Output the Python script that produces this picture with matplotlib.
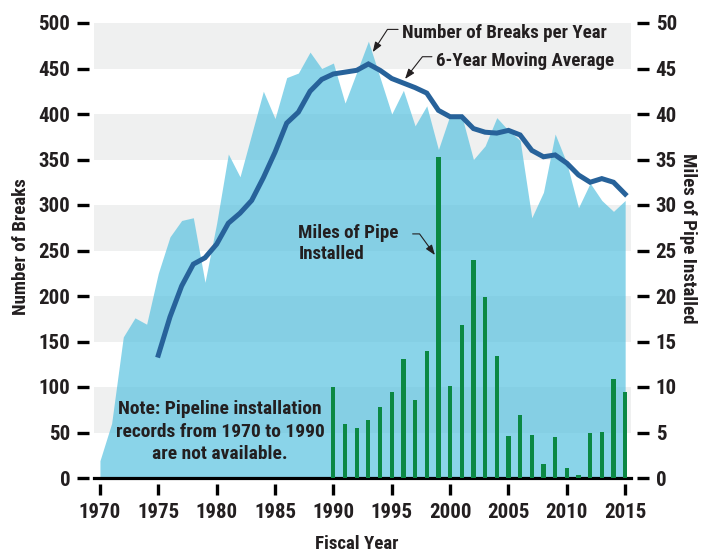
import matplotlib
matplotlib.use("Agg")
import matplotlib.pyplot as plt
from matplotlib import font_manager

# the original uses a condensed bold face; take the narrowest one installed
installed = {f.name for f in font_manager.fontManager.ttflist}
family, scale = "DejaVu Sans", 0.72
for fam, sc in [("Roboto Condensed", 1.0), ("Liberation Sans Narrow", 1.0),
                ("DejaVu Sans Condensed", 0.85), ("Roboto", 0.8)]:
    if fam in installed:
        family, scale = fam, sc
        break
plt.rcParams["font.family"] = [family, "DejaVu Sans"]
plt.rcParams["font.weight"] = "bold"

fs_tick = 15 * scale
fs_text = 13.6 * scale
fs_label = 13.6 * scale
fs_note = 14 * scale

# Number of breaks per year, FY1970-2015
break_years = list(range(1970, 2016))
breaks = [19, 60, 155, 176, 169, 225, 265, 283, 286, 215,
          280, 356, 331, 378, 425, 395, 440, 445, 468, 450,
          456, 412, 446, 480, 440, 400, 426, 387, 409, 361,
          399, 398, 350, 365, 396, 382, 371, 286, 314, 378,
          346, 297, 324, 305, 293, 305]

# 6-year moving average, FY1975-2015
avg_years = list(range(1975, 2016))
moving_avg = [135, 177, 211, 235, 242, 257, 280, 291, 305, 330,
              358, 390, 402, 425, 438, 444, 446, 448, 455, 448,
              439, 434, 429, 423, 404, 397, 397, 384, 380, 379,
              382, 377, 360, 353, 355, 346, 333, 325, 329, 325, 312]

# Miles of pipe installed, FY1990-2015
pipe_years = list(range(1990, 2016))
miles = [10.0, 5.9, 5.5, 6.4, 7.8, 9.5, 13.1, 8.6, 14.0, 35.3,
         10.1, 16.8, 24.0, 19.9, 13.4, 4.6, 6.9, 4.7, 1.5, 4.5,
         1.1, 0.3, 5.0, 5.1, 10.9, 9.4]

x_ticks = list(range(1970, 2020, 5))
left_ticks = list(range(0, 550, 50))
right_ticks = list(range(0, 55, 5))

text_color = "#231f20"
area_color = "#58c2e0"
line_color = "#27629a"
bar_color = "#0b8843"
band_color = "#eff0f0"

fig = plt.figure(figsize=(7.04, 5.53), dpi=100)
ax1 = fig.add_axes([94 / 704, 75 / 553, 537 / 704, 455 / 553])
ax2 = ax1.twinx()

# alternating background bands
for lo in range(50, 500, 100):
    ax1.axhspan(lo, lo + 50, color=band_color, lw=0, zorder=0)

ax1.fill_between(break_years, breaks, 0, color=area_color, alpha=0.7,
                 lw=0, zorder=1)
ax1.plot(avg_years, moving_avg, color=line_color, lw=3.6,
         solid_joinstyle="miter", zorder=3)

ax2.bar(pipe_years, miles, width=0.36, color=bar_color, zorder=2)

ax1.set_xlim(1969.49, 2015.5)
ax1.set_ylim(0, 500)
ax2.set_ylim(0, 50)

ax1.set_xticks(x_ticks)
ax1.set_yticks(left_ticks)
ax2.set_yticks(right_ticks)

for ax in (ax1, ax2):
    for s in ax.spines.values():
        s.set_visible(False)
ax1.spines["left"].set_position(("outward", 3.6))
ax1.spines["bottom"].set_position(("outward", 4.3))
ax2.spines["right"].set_position(("outward", 4.3))

ax1.tick_params(axis="y", length=8.4, width=2.4, color="black", pad=5,
                labelsize=fs_tick, labelcolor=text_color)
ax1.tick_params(axis="x", length=8, width=2.4, color="black", pad=5.5,
                labelsize=fs_tick, labelcolor=text_color)
ax2.tick_params(axis="y", length=8.4, width=2.4, color="black", pad=5,
                labelsize=fs_tick, labelcolor=text_color)

# black baseline
ax1.axhline(0, color="black", lw=2.3, clip_on=False, zorder=5)

fig.text(21 / 704, 1 - 247 / 553, "Number of Breaks", rotation=90,
         ha="center", va="center", fontsize=fs_label, color=text_color)
fig.text(688 / 704, 1 - 238 / 553, "Miles of Pipe Installed", rotation=270,
         ha="center", va="center", fontsize=fs_label, color=text_color)
fig.text(357 / 704, 1 - 544 / 553, "Fiscal Year", ha="center", va="center",
         fontsize=fs_label, color=text_color)

ax1.text(1980.3, 51, "Note: Pipeline installation\nrecords from 1970 to 1990\nare not available.",
         ha="center", va="center", multialignment="center", fontsize=fs_note,
         color=text_color, linespacing=1.3, zorder=6)

arrow = dict(arrowstyle="-|>,head_length=0.6,head_width=0.22", color=text_color,
             lw=0.8, mutation_scale=10, shrinkA=1, shrinkB=0)

ax1.annotate("Number of Breaks per Year", xy=(1993.37, 468), xytext=(1995.9, 489),
             ha="left", va="center", fontsize=fs_text, color=text_color, zorder=6,
             arrowprops=dict(arrow, relpos=(0, 0.7),
                             connectionstyle="angle,angleA=0,angleB=57,rad=0"))
ax1.annotate("6-Year Moving Average", xy=(1996.14, 438.5), xytext=(1998.8, 458),
             ha="left", va="center", fontsize=fs_text, color=text_color, zorder=6,
             arrowprops=dict(arrow, relpos=(0, 0.75),
                             connectionstyle="angle,angleA=0,angleB=52,rad=0"))
ax1.annotate("Miles of Pipe\nInstalled", xy=(1998.7, 245), xytext=(1987.0, 258),
             ha="left", va="center", fontsize=fs_text, color=text_color, zorder=6,
             linespacing=1.2,
             arrowprops=dict(arrow, relpos=(1, 0.74), shrinkA=8,
                             connectionstyle="angle,angleA=0,angleB=126,rad=0"))

fig.savefig("out.png", dpi=100)
